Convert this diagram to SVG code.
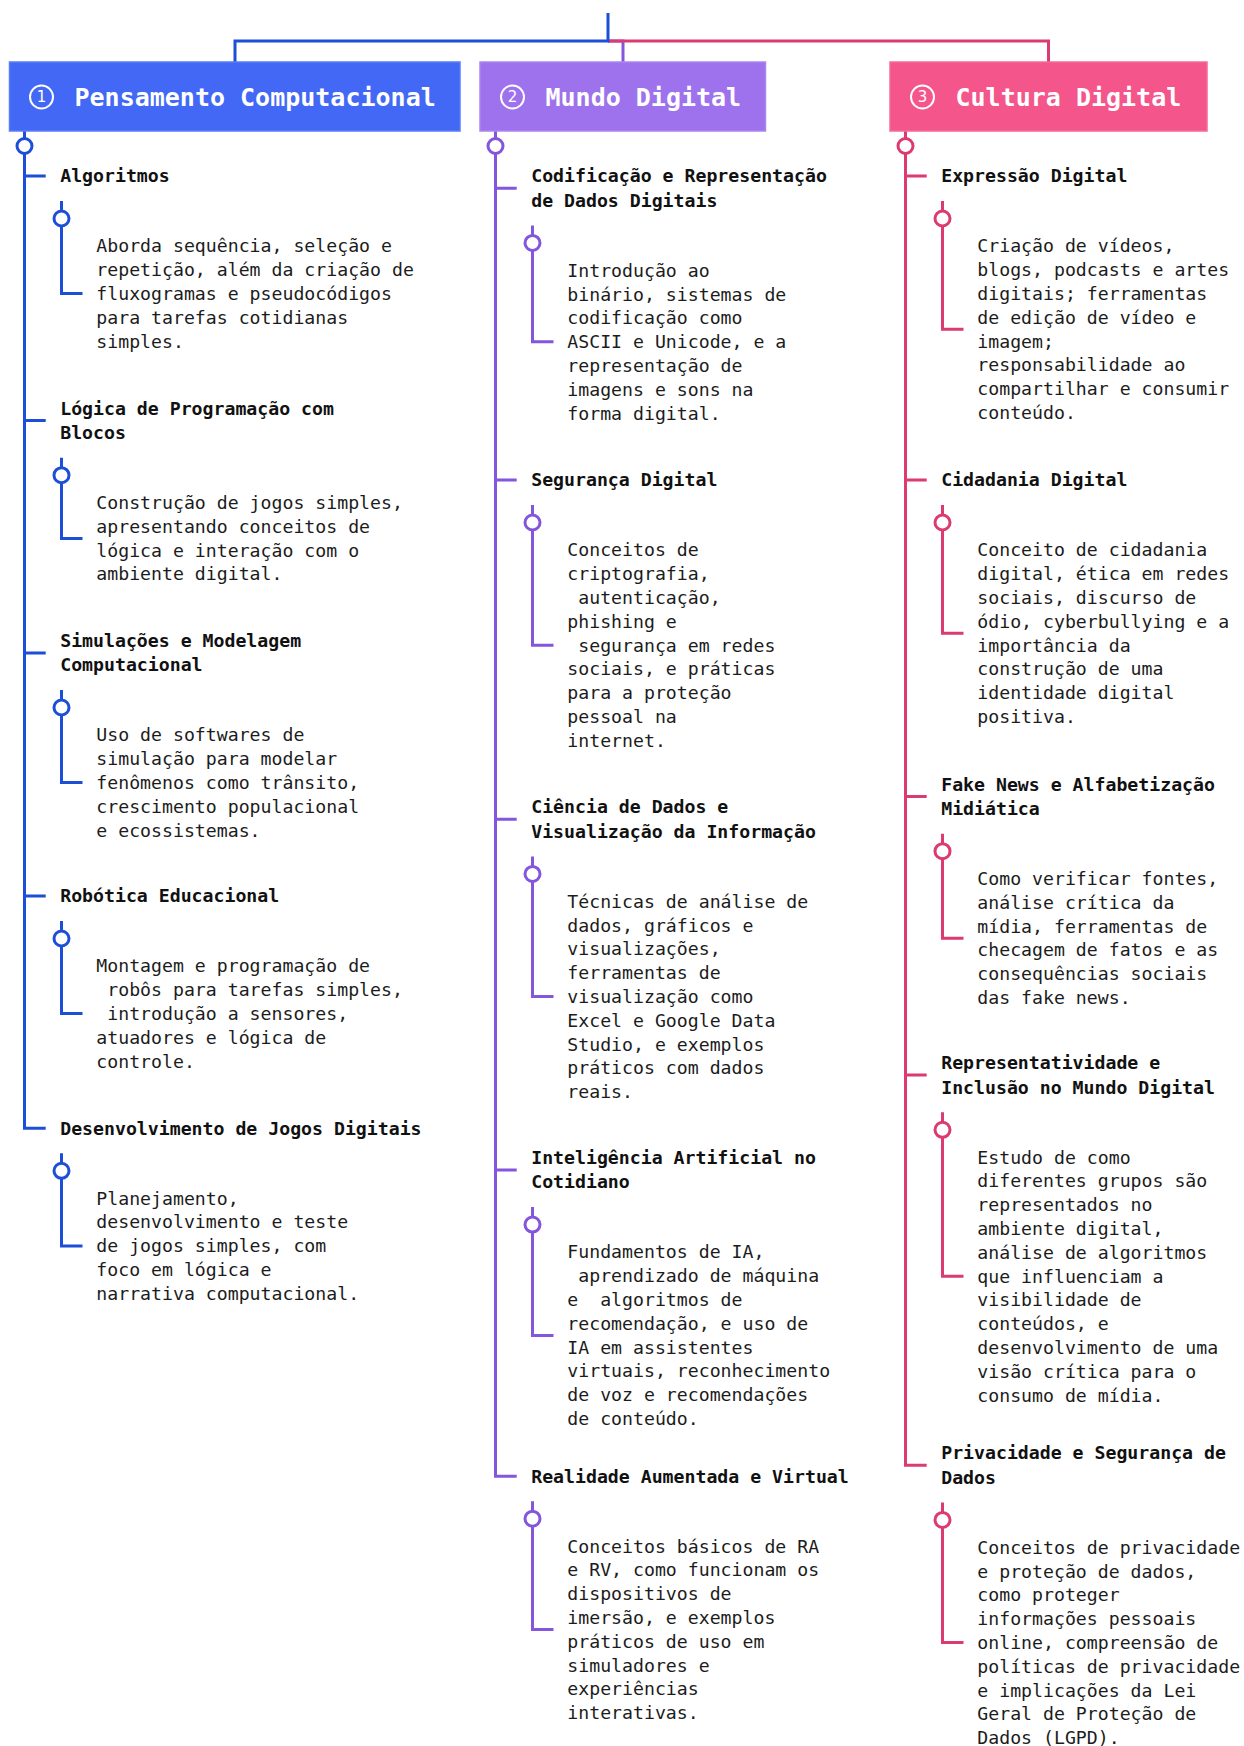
<svg xmlns="http://www.w3.org/2000/svg" width="1244" height="1746" viewBox="0 0 1244 1746">
<style>
.t{font-family:"DejaVu Sans Mono","Liberation Mono",monospace;font-size:18.2px;font-weight:bold;fill:#111}
.d{font-family:"DejaVu Sans Mono","Liberation Mono",monospace;font-size:18.2px;fill:#1c1c1c;white-space:pre}
.h{font-family:"DejaVu Sans Mono","Liberation Mono",monospace;font-size:25px;font-weight:bold;fill:#fff}
.n{font-family:"DejaVu Sans","Liberation Sans",sans-serif;font-size:15px;fill:#fff;text-anchor:middle}
.ic{fill:none;stroke:#fff;stroke-width:2}
.ln{fill:none;stroke-width:3}
.c{fill:#fff;stroke-width:3}
.b{stroke:#1d4ed8}
.p{stroke:#8456dc}
.k{stroke:#db3a72}
</style>
<rect width="1244" height="1746" fill="#fff"/>
<g id="connectors">
  <path class="ln p" d="M608,41 H623 V62"/>
  <path class="ln k" d="M608,41 H1048.5 V62"/>
  <path class="ln b" d="M608,13 V41 H235 V62"/>
  <!-- col 1 spine -->
  <path class="ln b" d="M24.5,131 V138.5 M24.5,153.5 V1128.3 H45.7 M24.5,176 H45.7 M24.5,420.5 H45.7 M24.5,652.9 H45.7 M24.5,896 H45.7"/>
  <circle class="c b" cx="24.5" cy="146" r="7.5"/>
  <path class="ln b" d="M61.5,201 V211 M61.5,226 V293.6 H82.5 M61.5,457.7 V467.7 M61.5,482.7 V538.4 H82.5 M61.5,690 V700 M61.5,715 V782.6 H82.5 M61.5,921 V931 M61.5,946 V1013.6 H82.5 M61.5,1153.3 V1163.3 M61.5,1178.3 V1245.9 H82.5"/>
  <circle class="c b" cx="61.5" cy="218.5" r="7.5"/>
  <circle class="c b" cx="61.5" cy="475.2" r="7.5"/>
  <circle class="c b" cx="61.5" cy="707.5" r="7.5"/>
  <circle class="c b" cx="61.5" cy="938.5" r="7.5"/>
  <circle class="c b" cx="61.5" cy="1170.8" r="7.5"/>
  <!-- col 2 spine -->
  <path class="ln p" d="M495.5,131 V138.5 M495.5,153.5 V1476.2 H516.7 M495.5,188.2 H516.7 M495.5,480 H516.7 M495.5,819.2 H516.7 M495.5,1169.9 H516.7"/>
  <circle class="c p" cx="495.5" cy="146" r="7.5"/>
  <path class="ln p" d="M532.5,225.4 V235.4 M532.5,250.4 V341.8 H553.5 M532.5,505 V515 M532.5,530 V645.2 H553.5 M532.5,856.4 V866.4 M532.5,881.4 V996.6 H553.5 M532.5,1207.1 V1217.1 M532.5,1232.1 V1335.4 H553.5 M532.5,1501.2 V1511.2 M532.5,1526.2 V1629.5 H553.5"/>
  <circle class="c p" cx="532.5" cy="242.9" r="7.5"/>
  <circle class="c p" cx="532.5" cy="522.5" r="7.5"/>
  <circle class="c p" cx="532.5" cy="873.9" r="7.5"/>
  <circle class="c p" cx="532.5" cy="1224.6" r="7.5"/>
  <circle class="c p" cx="532.5" cy="1518.7" r="7.5"/>
  <!-- col 3 spine -->
  <path class="ln k" d="M905.5,131 V138.5 M905.5,153.5 V1465.2 H926.7 M905.5,176 H926.7 M905.5,480 H926.7 M905.5,796.5 H926.7 M905.5,1075.1 H926.7"/>
  <circle class="c k" cx="905.5" cy="146" r="7.5"/>
  <path class="ln k" d="M942.5,201 V211 M942.5,226 V329.3 H963.5 M942.5,505 V515 M942.5,530 V633.3 H963.5 M942.5,833.7 V843.7 M942.5,858.7 V938.2 H963.5 M942.5,1112.3 V1122.3 M942.5,1137.3 V1276.3 H963.5 M942.5,1502.4 V1512.4 M942.5,1527.4 V1642.6 H963.5"/>
  <circle class="c k" cx="942.5" cy="218.5" r="7.5"/>
  <circle class="c k" cx="942.5" cy="522.5" r="7.5"/>
  <circle class="c k" cx="942.5" cy="851.2" r="7.5"/>
  <circle class="c k" cx="942.5" cy="1129.8" r="7.5"/>
  <circle class="c k" cx="942.5" cy="1519.9" r="7.5"/>
</g>

<g id="h1">
  <rect x="9.5" y="62" width="450.5" height="69" fill="#4268f5" stroke="#5a7cf6" stroke-width="1.5"/>
  <circle class="ic" cx="41.5" cy="97" r="11.5"/>
  <text class="n" x="41.5" y="102.3">1</text>
  <text class="h" x="74.5" y="106">Pensamento Computacional</text>
</g>
<g id="h2">
  <rect x="480" y="62" width="285.5" height="69" fill="#9d72ec" stroke="#ab86ef" stroke-width="1.5"/>
  <circle class="ic" cx="512.5" cy="97" r="11.5"/>
  <text class="n" x="512.5" y="102.3">2</text>
  <text class="h" x="545.5" y="106">Mundo Digital</text>
</g>
<g id="h3">
  <rect x="890" y="62" width="317" height="69" fill="#f4558a" stroke="#f56b97" stroke-width="1.5"/>
  <circle class="ic" cx="922.5" cy="97" r="11.5"/>
  <text class="n" x="922.5" y="102.3">3</text>
  <text class="h" x="955.5" y="106">Cultura Digital</text>
</g>

<g id="c1-1">
  <text class="t" x="60.2" y="182.3">Algoritmos</text>
  <text class="d" xml:space="preserve" x="96.3" y="252.3"><tspan x="96.3" y="252.3">Aborda sequência, seleção e</tspan><tspan x="96.3" y="276.1">repetição, além da criação de</tspan><tspan x="96.3" y="299.9">fluxogramas e pseudocódigos</tspan><tspan x="96.3" y="323.7">para tarefas cotidianas</tspan><tspan x="96.3" y="347.5">simples.</tspan></text>
</g>
<g id="c1-2">
  <text class="t" x="60.2" y="414.6"><tspan x="60.2" y="414.6">Lógica de Programação com</tspan><tspan x="60.2" y="439">Blocos</tspan></text>
  <text class="d" xml:space="preserve" x="96.3" y="509"><tspan x="96.3" y="509">Construção de jogos simples,</tspan><tspan x="96.3" y="532.8">apresentando conceitos de</tspan><tspan x="96.3" y="556.6">lógica e interação com o</tspan><tspan x="96.3" y="580.4">ambiente digital.</tspan></text>
</g>
<g id="c1-3">
  <text class="t" x="60.2" y="647"><tspan x="60.2" y="647">Simulações e Modelagem</tspan><tspan x="60.2" y="671.4">Computacional</tspan></text>
  <text class="d" xml:space="preserve" x="96.3" y="741.3"><tspan x="96.3" y="741.3">Uso de softwares de</tspan><tspan x="96.3" y="765.1">simulação para modelar</tspan><tspan x="96.3" y="788.9">fenômenos como trânsito,</tspan><tspan x="96.3" y="812.7">crescimento populacional</tspan><tspan x="96.3" y="836.5">e ecossistemas.</tspan></text>
</g>
<g id="c1-4">
  <text class="t" x="60.2" y="902.3">Robótica Educacional</text>
  <text class="d" xml:space="preserve" x="96.3" y="972.3"><tspan x="96.3" y="972.3">Montagem e programação de</tspan><tspan x="96.3" y="996.1"> robôs para tarefas simples,</tspan><tspan x="96.3" y="1019.9"> introdução a sensores,</tspan><tspan x="96.3" y="1043.7">atuadores e lógica de</tspan><tspan x="96.3" y="1067.5">controle.</tspan></text>
</g>
<g id="c1-5">
  <text class="t" x="60.2" y="1134.6">Desenvolvimento de Jogos Digitais</text>
  <text class="d" xml:space="preserve" x="96.3" y="1204.6"><tspan x="96.3" y="1204.6">Planejamento,</tspan><tspan x="96.3" y="1228.4">desenvolvimento e teste</tspan><tspan x="96.3" y="1252.2">de jogos simples, com</tspan><tspan x="96.3" y="1276">foco em lógica e</tspan><tspan x="96.3" y="1299.8">narrativa computacional.</tspan></text>
</g>

<g id="c2-1">
  <text class="t" x="531.2" y="182.3"><tspan x="531.2" y="182.3">Codificação e Representação</tspan><tspan x="531.2" y="206.7">de Dados Digitais</tspan></text>
  <text class="d" xml:space="preserve" x="567.3" y="276.7"><tspan x="567.3" y="276.7">Introdução ao</tspan><tspan x="567.3" y="300.5">binário, sistemas de</tspan><tspan x="567.3" y="324.3">codificação como</tspan><tspan x="567.3" y="348.1">ASCII e Unicode, e a</tspan><tspan x="567.3" y="371.9">representação de</tspan><tspan x="567.3" y="395.7">imagens e sons na</tspan><tspan x="567.3" y="419.5">forma digital.</tspan></text>
</g>
<g id="c2-2">
  <text class="t" x="531.2" y="486.3">Segurança Digital</text>
  <text class="d" xml:space="preserve" x="567.3" y="556.3"><tspan x="567.3" y="556.3">Conceitos de</tspan><tspan x="567.3" y="580.1">criptografia,</tspan><tspan x="567.3" y="603.9"> autenticação,</tspan><tspan x="567.3" y="627.7">phishing e</tspan><tspan x="567.3" y="651.5"> segurança em redes</tspan><tspan x="567.3" y="675.3">sociais, e práticas</tspan><tspan x="567.3" y="699.1">para a proteção</tspan><tspan x="567.3" y="722.9">pessoal na</tspan><tspan x="567.3" y="746.7">internet.</tspan></text>
</g>
<g id="c2-3">
  <text class="t" x="531.2" y="813.3"><tspan x="531.2" y="813.3">Ciência de Dados e</tspan><tspan x="531.2" y="837.7">Visualização da Informação</tspan></text>
  <text class="d" xml:space="preserve" x="567.3" y="907.7"><tspan x="567.3" y="907.7">Técnicas de análise de</tspan><tspan x="567.3" y="931.5">dados, gráficos e</tspan><tspan x="567.3" y="955.3">visualizações,</tspan><tspan x="567.3" y="979.1">ferramentas de</tspan><tspan x="567.3" y="1002.9">visualização como</tspan><tspan x="567.3" y="1026.7">Excel e Google Data</tspan><tspan x="567.3" y="1050.5">Studio, e exemplos</tspan><tspan x="567.3" y="1074.3">práticos com dados</tspan><tspan x="567.3" y="1098.1">reais.</tspan></text>
</g>
<g id="c2-4">
  <text class="t" x="531.2" y="1164"><tspan x="531.2" y="1164">Inteligência Artificial no</tspan><tspan x="531.2" y="1188.4">Cotidiano</tspan></text>
  <text class="d" xml:space="preserve" x="567.3" y="1258.4"><tspan x="567.3" y="1258.4">Fundamentos de IA,</tspan><tspan x="567.3" y="1282.2"> aprendizado de máquina</tspan><tspan x="567.3" y="1306">e  algoritmos de</tspan><tspan x="567.3" y="1329.8">recomendação, e uso de</tspan><tspan x="567.3" y="1353.6">IA em assistentes</tspan><tspan x="567.3" y="1377.4">virtuais, reconhecimento</tspan><tspan x="567.3" y="1401.2">de voz e recomendações</tspan><tspan x="567.3" y="1425">de conteúdo.</tspan></text>
</g>
<g id="c2-5">
  <text class="t" x="531.2" y="1482.5">Realidade Aumentada e Virtual</text>
  <text class="d" xml:space="preserve" x="567.3" y="1552.5"><tspan x="567.3" y="1552.5">Conceitos básicos de RA</tspan><tspan x="567.3" y="1576.3">e RV, como funcionam os</tspan><tspan x="567.3" y="1600.1">dispositivos de</tspan><tspan x="567.3" y="1623.9">imersão, e exemplos</tspan><tspan x="567.3" y="1647.7">práticos de uso em</tspan><tspan x="567.3" y="1671.5">simuladores e</tspan><tspan x="567.3" y="1695.3">experiências</tspan><tspan x="567.3" y="1719.1">interativas.</tspan></text>
</g>

<g id="c3-1">
  <text class="t" x="941.2" y="182.3">Expressão Digital</text>
  <text class="d" xml:space="preserve" x="977.3" y="252.3"><tspan x="977.3" y="252.3">Criação de vídeos,</tspan><tspan x="977.3" y="276.1">blogs, podcasts e artes</tspan><tspan x="977.3" y="299.9">digitais; ferramentas</tspan><tspan x="977.3" y="323.7">de edição de vídeo e</tspan><tspan x="977.3" y="347.5">imagem;</tspan><tspan x="977.3" y="371.3">responsabilidade ao</tspan><tspan x="977.3" y="395.1">compartilhar e consumir</tspan><tspan x="977.3" y="418.9">conteúdo.</tspan></text>
</g>
<g id="c3-2">
  <text class="t" x="941.2" y="486.3">Cidadania Digital</text>
  <text class="d" xml:space="preserve" x="977.3" y="556.3"><tspan x="977.3" y="556.3">Conceito de cidadania</tspan><tspan x="977.3" y="580.1">digital, ética em redes</tspan><tspan x="977.3" y="603.9">sociais, discurso de</tspan><tspan x="977.3" y="627.7">ódio, cyberbullying e a</tspan><tspan x="977.3" y="651.5">importância da</tspan><tspan x="977.3" y="675.3">construção de uma</tspan><tspan x="977.3" y="699.1">identidade digital</tspan><tspan x="977.3" y="722.9">positiva.</tspan></text>
</g>
<g id="c3-3">
  <text class="t" x="941.2" y="790.6"><tspan x="941.2" y="790.6">Fake News e Alfabetização</tspan><tspan x="941.2" y="815">Midiática</tspan></text>
  <text class="d" xml:space="preserve" x="977.3" y="885"><tspan x="977.3" y="885">Como verificar fontes,</tspan><tspan x="977.3" y="908.8">análise crítica da</tspan><tspan x="977.3" y="932.6">mídia, ferramentas de</tspan><tspan x="977.3" y="956.4">checagem de fatos e as</tspan><tspan x="977.3" y="980.2">consequências sociais</tspan><tspan x="977.3" y="1004">das fake news.</tspan></text>
</g>
<g id="c3-4">
  <text class="t" x="941.2" y="1069.2"><tspan x="941.2" y="1069.2">Representatividade e</tspan><tspan x="941.2" y="1093.6">Inclusão no Mundo Digital</tspan></text>
  <text class="d" xml:space="preserve" x="977.3" y="1163.6"><tspan x="977.3" y="1163.6">Estudo de como</tspan><tspan x="977.3" y="1187.4">diferentes grupos são</tspan><tspan x="977.3" y="1211.2">representados no</tspan><tspan x="977.3" y="1235">ambiente digital,</tspan><tspan x="977.3" y="1258.8">análise de algoritmos</tspan><tspan x="977.3" y="1282.6">que influenciam a</tspan><tspan x="977.3" y="1306.4">visibilidade de</tspan><tspan x="977.3" y="1330.2">conteúdos, e</tspan><tspan x="977.3" y="1354">desenvolvimento de uma</tspan><tspan x="977.3" y="1377.8">visão crítica para o</tspan><tspan x="977.3" y="1401.6">consumo de mídia.</tspan></text>
</g>
<g id="c3-5">
  <text class="t" x="941.2" y="1459.3"><tspan x="941.2" y="1459.3">Privacidade e Segurança de</tspan><tspan x="941.2" y="1483.7">Dados</tspan></text>
  <text class="d" xml:space="preserve" x="977.3" y="1553.7"><tspan x="977.3" y="1553.7">Conceitos de privacidade</tspan><tspan x="977.3" y="1577.5">e proteção de dados,</tspan><tspan x="977.3" y="1601.3">como proteger</tspan><tspan x="977.3" y="1625.1">informações pessoais</tspan><tspan x="977.3" y="1648.9">online, compreensão de</tspan><tspan x="977.3" y="1672.7">políticas de privacidade</tspan><tspan x="977.3" y="1696.5">e implicações da Lei</tspan><tspan x="977.3" y="1720.3">Geral de Proteção de</tspan><tspan x="977.3" y="1744.1">Dados (LGPD).</tspan></text>
</g>
</svg>
